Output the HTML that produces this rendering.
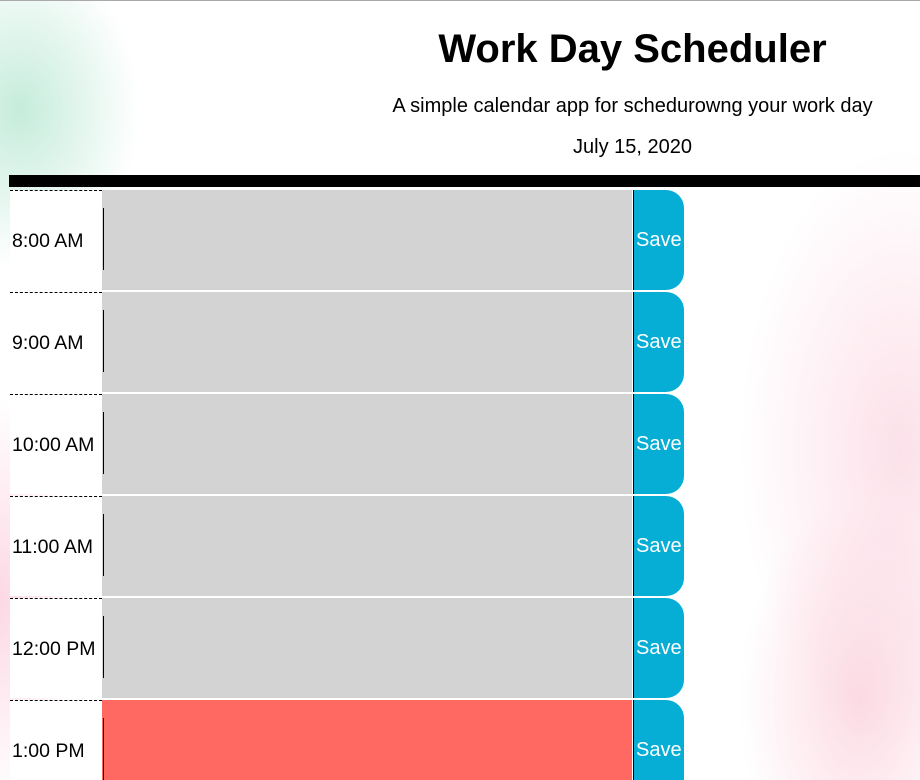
<!DOCTYPE html>
<html><head><meta charset="utf-8"><style>
html,body{margin:0;width:920px;height:780px;overflow:hidden}
body{font-family:"Liberation Sans",sans-serif;position:relative;background:#fff;}
.bg{position:absolute;left:0;top:0;width:920px;height:780px;background:
radial-gradient(ellipse 120px 160px at 20px 110px,rgba(150,220,190,.55),transparent),
radial-gradient(ellipse 80px 200px at 0px 600px,rgba(250,190,210,.6),transparent),
radial-gradient(ellipse 160px 300px at 900px 450px,rgba(250,200,215,.55),transparent),
radial-gradient(ellipse 120px 200px at 860px 700px,rgba(250,195,210,.6),transparent);}
.topline{position:absolute;left:0;top:0;width:920px;height:1px;background:#aaa}
h1{position:absolute;left:345px;width:575px;top:27px;margin:0;text-align:center;font-size:40px;font-weight:bold}
.sub{position:absolute;left:345px;width:575px;top:95px;text-align:center;font-size:20px}
.date{position:absolute;left:345px;width:575px;top:136px;text-align:center;font-size:20px}
.bar{position:absolute;left:9px;top:175px;width:911px;height:12px;background:#000}
.row{position:absolute;left:10px;height:100px;width:674px}
.hour{position:absolute;left:0;top:0;width:92px;height:100px;background:#fff;border-top:1px dashed #000;box-sizing:border-box;font-size:19.5px;line-height:100px;padding-left:2px}
.ta{position:absolute;left:92px;top:0;width:530px;height:100px;background:#d3d3d3}
.ta::before{content:"";position:absolute;left:1px;top:18px;width:1px;height:62px;background:#000}
.ta.present{background:#ff6961}
.save{position:absolute;left:623px;top:0;width:51px;height:100px;background:#06aed5;border-radius:0 18px 18px 0;color:#fff;font-size:20px;line-height:100px;border-left:1px solid #000;box-sizing:border-box;padding-left:2px}
</style></head><body>
<div class="bg"></div>
<div class="topline"></div>
<h1>Work Day Scheduler</h1>
<div class="sub">A simple calendar app for schedurowng your work day</div>
<div class="date">July 15, 2020</div>
<div class="bar"></div>
<div class="row" style="top:190px"><div class="hour">8:00 AM</div><div class="ta"></div><div class="save">Save</div></div>
<div class="row" style="top:292px"><div class="hour">9:00 AM</div><div class="ta"></div><div class="save">Save</div></div>
<div class="row" style="top:394px"><div class="hour">10:00 AM</div><div class="ta"></div><div class="save">Save</div></div>
<div class="row" style="top:496px"><div class="hour">11:00 AM</div><div class="ta"></div><div class="save">Save</div></div>
<div class="row" style="top:598px"><div class="hour">12:00 PM</div><div class="ta"></div><div class="save">Save</div></div>
<div class="row" style="top:700px"><div class="hour">1:00 PM</div><div class="ta present"></div><div class="save">Save</div></div>
</body></html>
